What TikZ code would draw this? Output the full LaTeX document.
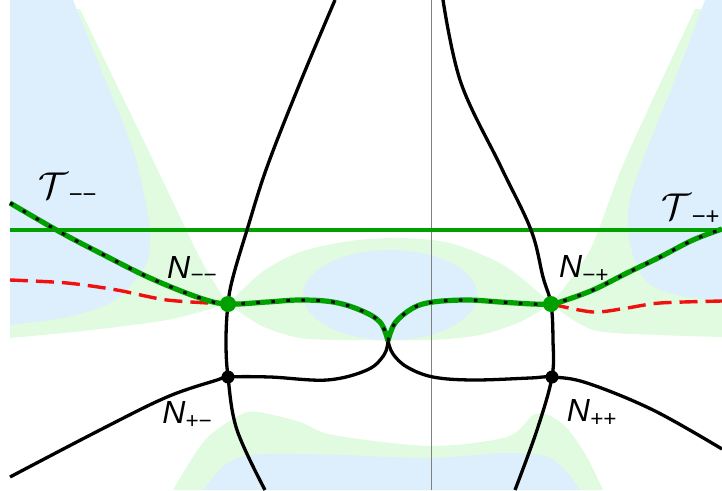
\documentclass[tikz,border=0pt]{standalone}
\usepackage{fontspec}
\setsansfont{Liberation Sans}
\usepackage{tikz}
\usetikzlibrary{positioning}
\definecolor{regblue}{HTML}{DDEEFC}
\definecolor{reggreen}{HTML}{E0FBE0}
\definecolor{lgreen}{HTML}{00A000}
\definecolor{lred}{HTML}{F01010}
\tikzset{
  gdot/.style={
    circle, fill=lgreen, inner sep=0pt, minimum size=16pt
  },
  bdot/.style={
    circle, fill=black, inner sep=0pt, minimum size=13pt
  },
  curv/.style={
    line width=3.3pt, black
  },
  gcurv/.style={
    line width=5.2pt, lgreen,
    postaction={draw=black, line width=3pt, dash pattern=on 3.5pt off 11.5pt}
  },
  rdash/.style={
    line width=3.4pt, lred, dash pattern=on 18pt off 8pt
  },
  hline/.style={
    line width=3.4pt, lgreen
  },
  nlabel/.style={
    inner sep=0pt, font=\fontsize{32}{38}\selectfont\sffamily\itshape
  },
  tlabel/.style={
    inner sep=0pt, font=\fontsize{34}{40}\selectfont\sffamily
  }
}

\begin{document}
\begin{tikzpicture}[x=1pt, y=-1pt]
\useasboundingbox (0,0) rectangle (722,490);

% puntos silla y extremos
\coordinate (smm) at (228,304);
\coordinate (smp) at (551,304);
\coordinate (spm) at (228,377);
\coordinate (spp) at (552,377);
\coordinate (cusp) at (388,341);
\coordinate (vLt) at (335,0);
\coordinate (vLb) at (265,490);
\coordinate (vRt) at (443,0);
\coordinate (vRb) at (515,490);
\coordinate (hL) at (10,477);
\coordinate (hR) at (722,449);
\coordinate (gL) at (10,203);
\coordinate (gR) at (722,229);
\coordinate (rL) at (10,280);
\coordinate (rR) at (722,301);
\coordinate (lineL) at (10,230);
\coordinate (lineR) at (722,230);
\coordinate (ejeT) at (431,0);
\coordinate (ejeB) at (431,490);

% regiones verdes
\fill[reggreen] (10,9) -- plot[smooth] coordinates {(80,9) (153,160) (200,258) (smm)}
  -- plot[smooth] coordinates {(smm) (167,320) (83,331) (10,338)} -- cycle;
\fill[reggreen] plot[smooth] coordinates {(smm) (262,272) (300,252) (350,241) (400,238) (450,243) (500,263) (530,285) (smp)}
  -- plot[smooth] coordinates {(smp) (520,322) (480,335) (430,340) (350,340) (300,338) (262,326) (smm)} -- cycle;
\fill[reggreen] (722,9) -- (722,337) -- plot[smooth] coordinates {(722,337) (660,335) (593,330) (smp)}
  -- plot[smooth] coordinates {(smp) (590,250) (625,160) (695,9)} -- cycle;
\fill[reggreen] plot[smooth] coordinates {(173,490) (205,440) (240,415) (258,412) (300,422) (333,435) (430,446) (507,437) (533,415) (548,415) (567,428) (587,457) (603,490)} -- cycle;

% regiones azules
\fill[regblue] (10,0) -- plot[smooth] coordinates {(73,0) (100,67) (133,150) (148,215) (150,240) (147,262) (133,283) (110,303) (67,317) (10,325)} -- cycle;
\fill[regblue] (390,295) ellipse [x radius=87pt, y radius=45pt];
\fill[regblue] (722,0) -- (722,300) -- plot[smooth] coordinates {(722,300) (693,298) (660,290) (643,277) (633,255) (628,230) (630,200) (643,160) (675,80) (705,0)} -- cycle;
\fill[regblue] plot[smooth] coordinates {(203,490) (225,465) (250,455) (300,454) (340,455) (430,458) (507,453) (545,456) (565,470) (580,490)} -- cycle;

% eje y recta
\draw[gray, line width=1pt] (ejeT) -- (ejeB);
\draw[hline] (lineL) -- (lineR);

% curvas negras
\draw[curv] plot[smooth, tension=0.6] coordinates {(vLt) (300,83) (267,167) (247,230) (233,277) (smm) (226,340) (spm) (237,430) (vLb)};
\draw[curv] plot[smooth, tension=0.6] coordinates {(vRt) (461,83) (501,167) (531,230) (543,277) (smp) (553,340) (spp) (537,430) (vRb)};
\draw[curv] plot[smooth, tension=0.6] coordinates {(hL) (100,430) (167,397) (217,380) (spm) (270,377) (327,380) (367,370) (384,355) (cusp)};
\draw[curv] plot[smooth, tension=0.6] coordinates {(cusp) (393,354) (407,367) (433,377) (473,380) (530,378) (spp) (587,383) (653,410) (hR)};

% curvas rojas
\draw[rdash] plot[smooth] coordinates {(rL) (67,283) (117,290) (167,300) (smm)};
\draw[rdash] plot[smooth] coordinates {(smp) (593,312) (627,308) (660,303) (rR)};

% curvas verdes
\draw[gcurv] plot[smooth, tension=0.6] coordinates {(gL) (60,232) (100,253) (150,278) (200,298) (smm) (267,302) (300,300) (333,302) (360,310) (380,322) (cusp)};
\draw[gcurv] plot[smooth, tension=0.6] coordinates {(cusp) (395,323) (413,308) (433,302) (467,300) (500,302) (533,304) (smp) (560,302) (593,290) (627,273) (660,257) (693,240) (gR)};

% nodos
\node[gdot] (Nmm) at (smm) {};
\node[gdot] (Nmp) at (smp) {};
\node[bdot] (Npm) at (spm) {};
\node[bdot] (Npp) at (spp) {};

% etiquetas
\node[nlabel, above left=16pt and 5pt of Nmm] (Lmm) {N\textsubscript{−−}};
\node[nlabel, above right=16pt and 2pt of Nmp] (Lmp) {N\textsubscript{−+}};
\node[nlabel, below left=20pt and 11pt of Npm] (Lpm) {N\textsubscript{+−}};
\node[nlabel, below right=18pt and 10pt of Npp] (Lpp) {N\textsubscript{++}};
\node[tlabel] (Tmm) at (68,188) {\scalebox{1.5}{$\mathcal{T}$}\textsubscript{−−}};
\node[tlabel] (Tmp) at (691,209) {\scalebox{1.5}{$\mathcal{T}$}\textsubscript{−+}};
\end{tikzpicture}
\end{document}
